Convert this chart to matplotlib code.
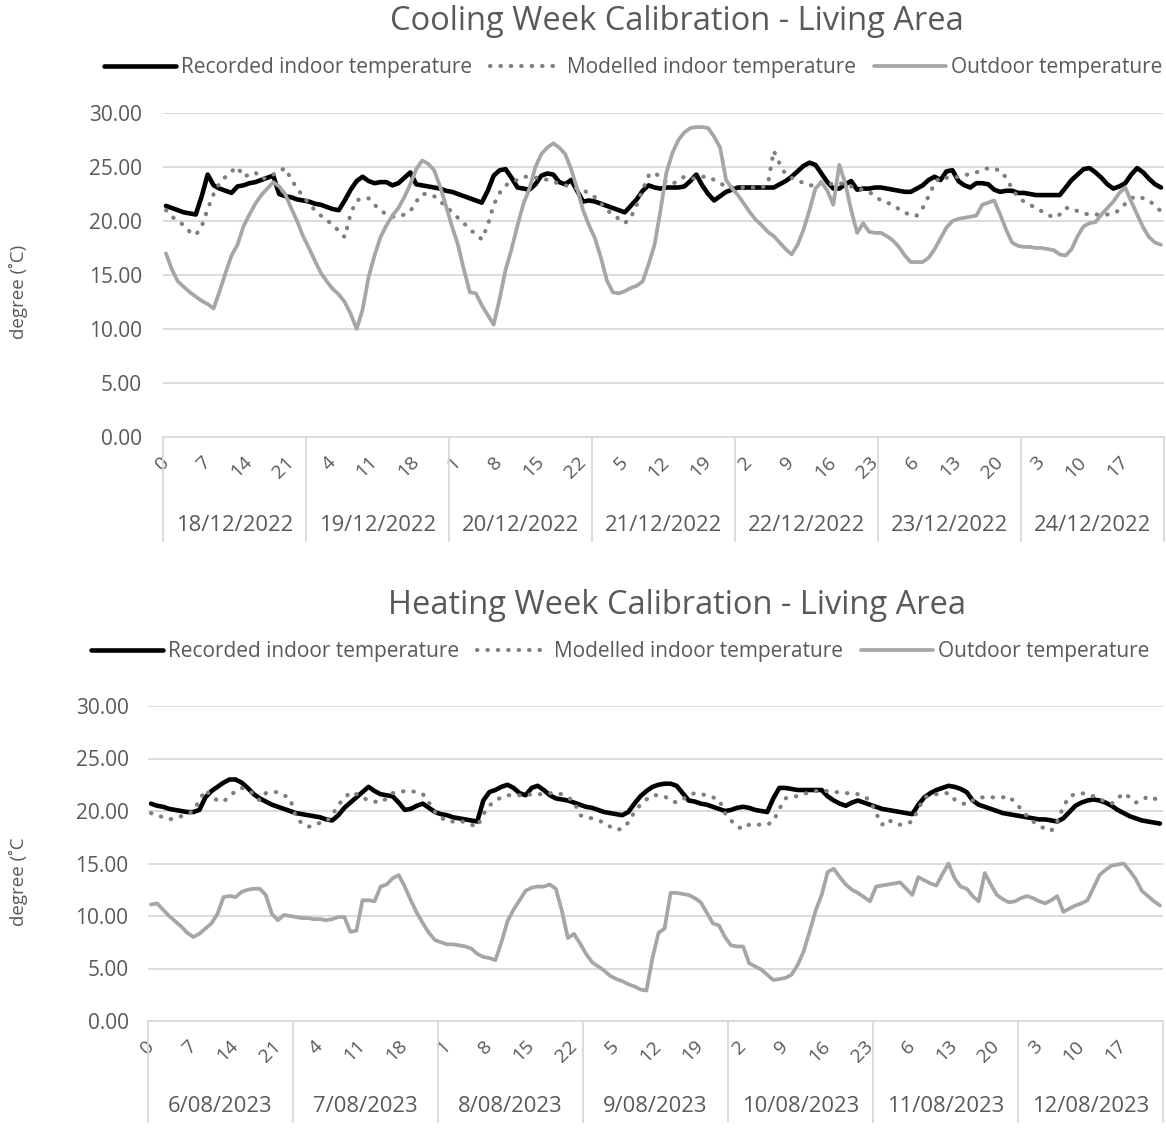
import numpy as np
import matplotlib.pyplot as plt

plt.rcParams['font.family'] = ['Open Sans', 'DejaVu Sans']

# hourly values, one row per day (7 days x 24 h)
cool_dates = ['18/12/2022', '19/12/2022', '20/12/2022', '21/12/2022',
              '22/12/2022', '23/12/2022', '24/12/2022']
cool_recorded = [
    21.4, 21.2, 21.0, 20.8, 20.7, 20.6, 22.3, 24.3, 23.3, 23.0, 22.8, 22.6, 23.2, 23.3, 23.5, 23.6, 23.8, 24.0, 24.2, 22.5, 22.3, 22.2, 22.0, 21.9,
    21.8, 21.6, 21.5, 21.3, 21.1, 21.0, 21.9, 22.9, 23.7, 24.1, 23.7, 23.5, 23.6, 23.6, 23.3, 23.5, 24.0, 24.5, 23.4, 23.3, 23.2, 23.1, 23.0, 22.8,
    22.7, 22.5, 22.3, 22.1, 21.9, 21.7, 22.8, 24.2, 24.7, 24.8, 24.0, 23.1, 23.0, 22.9, 23.4, 24.2, 24.4, 24.3, 23.6, 23.4, 23.8, 22.8, 21.8, 21.9,
    21.8, 21.6, 21.4, 21.2, 21.0, 20.8, 21.4, 22.0, 22.8, 23.3, 23.1, 23.0, 23.1, 23.1, 23.1, 23.2, 23.7, 24.3, 23.3, 22.5, 21.9, 22.3, 22.7, 22.9,
    23.1, 23.1, 23.1, 23.1, 23.1, 23.1, 23.1, 23.4, 23.7, 24.1, 24.6, 25.1, 25.4, 25.2, 24.4, 23.6, 23.0, 23.0, 23.4, 23.7, 22.9, 23.0, 23.0, 23.1,
    23.1, 23.0, 22.9, 22.8, 22.7, 22.7, 23.0, 23.3, 23.8, 24.1, 23.8, 24.6, 24.7, 23.7, 23.3, 23.1, 23.5, 23.5, 23.4, 22.9, 22.7, 22.8, 22.8, 22.6,
    22.6, 22.5, 22.4, 22.4, 22.4, 22.4, 22.4, 23.1, 23.8, 24.3, 24.8, 24.9, 24.5, 24.0, 23.4, 23.0, 23.2, 23.5, 24.3, 24.9, 24.5, 23.9, 23.4, 23.1,
]
cool_modelled = [
    21.0, 20.4, 20.0, 19.6, 19.0, 18.7, 19.5, 21.1, 22.5, 23.5, 24.1, 24.6, 25.0, 24.1, 24.3, 24.5, 23.9, 24.0, 24.3, 24.6, 24.9, 23.9, 23.0, 22.3,
    21.6, 21.0, 20.5, 20.1, 19.6, 19.1, 18.5, 20.7, 21.9, 22.1, 22.1, 21.5, 21.0, 20.6, 20.4, 20.4, 20.6, 20.9, 21.8, 22.5, 22.5, 22.3, 21.8, 21.4,
    20.8, 20.3, 19.8, 19.2, 18.8, 18.3, 19.6, 21.5, 22.6, 23.3, 23.6, 23.8, 24.1, 24.1, 24.0, 24.0, 23.8, 23.6, 23.5, 23.3, 23.2, 23.0, 22.9, 22.5,
    22.2, 21.6, 21.0, 20.6, 20.2, 19.8, 20.3, 21.5, 22.9, 24.2, 24.5, 24.0, 23.6, 23.4, 23.8, 24.1, 24.0, 23.9, 24.1, 24.1, 23.8, 23.5, 23.2, 23.1,
    23.1, 23.1, 23.1, 23.1, 23.1, 23.4, 26.5, 25.3, 24.3, 24.0, 23.8, 23.5, 23.3, 23.3, 23.6, 23.5, 23.4, 23.5, 23.4, 23.2, 23.0, 22.9, 22.7, 22.3,
    21.9, 21.7, 21.5, 21.1, 20.8, 20.5, 20.5, 21.2, 22.3, 23.5, 24.1, 24.0, 24.0, 24.1, 24.2, 24.4, 24.5, 24.7, 24.9, 24.8, 24.7, 24.0, 23.0, 22.2,
    21.8, 21.5, 21.2, 20.9, 20.6, 20.3, 20.6, 21.2, 21.2, 20.9, 20.7, 20.6, 20.6, 20.6, 20.6, 20.7, 21.0, 21.6, 22.1, 22.3, 22.1, 21.9, 21.4, 20.9,
]
cool_outdoor = [
    17.0, 15.5, 14.4, 13.9, 13.4, 13.0, 12.6, 12.3, 11.9, 13.5, 15.2, 16.8, 17.8, 19.5, 20.6, 21.6, 22.4, 23.0, 23.6, 23.2, 22.5, 21.2, 20.0, 18.6,
    17.5, 16.3, 15.2, 14.4, 13.7, 13.2, 12.5, 11.4, 10.0, 11.8, 14.8, 16.8, 18.5, 19.6, 20.5, 21.2, 22.2, 23.4, 24.8, 25.6, 25.3, 24.7, 23.2, 21.4,
    19.5, 17.8, 15.5, 13.4, 13.3, 12.2, 11.3, 10.4, 12.8, 15.5, 17.4, 19.6, 21.6, 23.0, 25.0, 26.2, 26.8, 27.2, 26.8, 26.2, 24.8, 23.0, 21.0, 19.6,
    18.4, 16.6, 14.5, 13.4, 13.3, 13.5, 13.8, 14.0, 14.4, 16.0, 17.8, 21.0, 24.5, 26.3, 27.5, 28.2, 28.6, 28.7, 28.7, 28.6, 27.8, 26.8, 23.8, 23.0,
    22.4, 21.6, 20.8, 20.1, 19.6, 19.0, 18.6, 18.0, 17.4, 16.9, 17.8, 19.2, 21.0, 23.0, 23.6, 22.8, 21.5, 25.2, 23.5, 21.0, 18.9, 19.8, 19.0, 18.9,
    18.9, 18.6, 18.2, 17.6, 16.8, 16.2, 16.2, 16.2, 16.6, 17.4, 18.4, 19.4, 20.0, 20.2, 20.3, 20.4, 20.5, 21.5, 21.7, 21.9, 20.6, 19.2, 18.0, 17.7,
    17.6, 17.6, 17.5, 17.5, 17.4, 17.3, 16.9, 16.8, 17.4, 18.6, 19.5, 19.8, 19.9, 20.6, 21.2, 21.8, 22.6, 23.1, 21.8, 20.6, 19.4, 18.5, 18.0, 17.8,
]

heat_dates = ['6/08/2023', '7/08/2023', '8/08/2023', '9/08/2023',
              '10/08/2023', '11/08/2023', '12/08/2023']
heat_recorded = [
    20.7, 20.5, 20.4, 20.2, 20.1, 20.0, 19.9, 19.9, 20.1, 21.3, 21.9, 22.3, 22.7, 23.0, 23.0, 22.7, 22.2, 21.6, 21.2, 20.9, 20.6, 20.4, 20.2, 20.0,
    19.8, 19.7, 19.6, 19.5, 19.4, 19.2, 19.1, 19.6, 20.3, 20.8, 21.3, 21.8, 22.3, 21.9, 21.6, 21.5, 21.4, 20.8, 20.1, 20.2, 20.5, 20.7, 20.3, 19.9,
    19.7, 19.6, 19.4, 19.3, 19.2, 19.1, 19.0, 21.0, 21.8, 22.0, 22.3, 22.5, 22.2, 21.7, 21.5, 22.2, 22.4, 22.0, 21.5, 21.2, 21.1, 21.0, 20.8, 20.6,
    20.4, 20.3, 20.1, 19.9, 19.8, 19.7, 19.6, 19.9, 20.7, 21.4, 21.9, 22.3, 22.5, 22.6, 22.6, 22.4, 21.7, 21.0, 20.9, 20.7, 20.6, 20.4, 20.2, 20.0,
    20.1, 20.3, 20.4, 20.3, 20.1, 20.0, 19.9, 21.2, 22.2, 22.2, 22.1, 22.0, 22.0, 22.0, 22.0, 22.0, 21.4, 21.0, 20.7, 20.5, 20.8, 21.0, 20.8, 20.6,
    20.4, 20.2, 20.1, 20.0, 19.9, 19.8, 19.7, 20.6, 21.3, 21.7, 22.0, 22.2, 22.4, 22.3, 22.1, 21.8, 21.0, 20.6, 20.4, 20.2, 20.0, 19.8, 19.7, 19.6,
    19.5, 19.4, 19.3, 19.2, 19.2, 19.1, 19.0, 19.3, 19.9, 20.5, 20.8, 21.0, 21.1, 21.0, 20.8, 20.5, 20.1, 19.8, 19.5, 19.3, 19.1, 19.0, 18.9, 18.8,
]
heat_modelled = [
    19.8, 19.6, 19.4, 19.2, 19.3, 19.5, 19.7, 20.0, 21.0, 22.0, 21.4, 21.0, 20.9, 21.4, 21.9, 22.2, 22.0, 21.6, 21.0, 21.7, 21.8, 21.8, 21.5, 21.2,
    19.4, 18.8, 18.5, 18.6, 18.9, 19.0, 19.6, 20.6, 21.2, 21.8, 21.6, 21.3, 21.0, 20.9, 20.8, 21.2, 21.7, 21.8, 21.9, 21.9, 21.8, 21.6, 20.8, 19.9,
    19.4, 19.0, 19.0, 19.1, 18.9, 18.7, 18.5, 19.7, 20.5, 21.0, 21.3, 21.5, 21.5, 21.5, 21.5, 21.6, 21.6, 21.6, 21.7, 21.7, 21.6, 21.3, 20.9, 19.6,
    19.4, 19.3, 19.1, 18.9, 18.5, 18.2, 18.3, 18.9, 19.9, 20.6, 21.1, 21.5, 21.5, 21.4, 21.0, 20.8, 21.1, 21.5, 21.7, 21.6, 21.5, 21.3, 21.1, 19.8,
    19.1, 18.5, 18.3, 18.7, 18.7, 18.7, 18.7, 19.0, 20.2, 21.2, 21.4, 21.4, 21.6, 21.8, 21.9, 21.9, 21.9, 21.8, 21.8, 21.7, 21.7, 21.6, 21.4, 21.0,
    19.8, 18.7, 19.2, 18.8, 18.7, 18.8, 19.0, 20.2, 21.3, 21.5, 21.6, 21.7, 21.7, 21.1, 20.8, 20.6, 21.0, 21.3, 21.3, 21.3, 21.3, 21.3, 21.4, 20.8,
    20.2, 19.5, 19.0, 18.6, 18.3, 18.1, 19.0, 20.4, 21.4, 21.6, 21.7, 21.6, 21.4, 21.1, 20.9, 20.7, 21.2, 21.7, 21.3, 20.8, 21.0, 21.4, 21.2, 21.0,
]
heat_outdoor = [
    11.1, 11.2, 10.6, 10.0, 9.5, 9.0, 8.4, 8.0, 8.3, 8.8, 9.3, 10.2, 11.8, 11.9, 11.8, 12.3, 12.5, 12.6, 12.6, 12.0, 10.2, 9.6, 10.1, 10.0,
    9.9, 9.8, 9.8, 9.7, 9.7, 9.6, 9.7, 9.9, 9.9, 8.5, 8.6, 11.5, 11.5, 11.4, 12.8, 13.0, 13.6, 13.9, 12.8, 11.5, 10.3, 9.3, 8.4, 7.7,
    7.5, 7.3, 7.3, 7.2, 7.1, 6.9, 6.4, 6.1, 6.0, 5.8, 7.5, 9.5, 10.6, 11.5, 12.4, 12.7, 12.8, 12.8, 13.0, 12.6, 10.5, 7.9, 8.3, 7.4,
    6.4, 5.6, 5.2, 4.8, 4.3, 4.0, 3.8, 3.5, 3.3, 3.0, 2.9, 6.0, 8.4, 8.8, 12.2, 12.2, 12.1, 12.0, 11.7, 11.3, 10.3, 9.3, 9.1, 8.0,
    7.2, 7.1, 7.1, 5.5, 5.2, 4.9, 4.4, 3.9, 4.0, 4.1, 4.4, 5.3, 6.6, 8.5, 10.5, 12.0, 14.2, 14.5, 13.7, 13.0, 12.5, 12.2, 11.8, 11.4,
    12.8, 12.9, 13.0, 13.1, 13.2, 12.6, 12.0, 13.7, 13.4, 13.1, 12.9, 14.0, 15.0, 13.6, 12.8, 12.6, 11.9, 11.4, 14.1, 13.0, 12.0, 11.6, 11.3, 11.4,
    11.7, 11.9, 11.7, 11.4, 11.2, 11.5, 11.9, 10.4, 10.7, 11.0, 11.2, 11.5, 12.7, 13.9, 14.4, 14.8, 14.9, 15.0, 14.3, 13.5, 12.4, 11.9, 11.4, 11.0,
]

TXT = '#595959'
GRID = '#d9d9d9'


def draw_week(ax, recorded, modelled, outdoor, dates, ylabel_pad):
    n = len(recorded)
    x = np.arange(n)
    ax.plot(x, recorded, color='black', lw=3.3, solid_capstyle='round',
            label='Recorded indoor temperature')
    ax.plot(x, modelled, color='#7f7f7f', lw=3.0, linestyle=(0, (0.1, 2.4)),
            dash_capstyle='round', label='Modelled indoor temperature')
    ax.plot(x, outdoor, color='#a6a6a6', lw=2.7, solid_capstyle='round',
            label='Outdoor temperature')

    ax.set_xlim(-0.5, n - 0.5)
    ax.set_ylim(0, 30)
    ax.set_yticks(np.arange(0, 31, 5))
    ax.set_yticklabels(['%.2f' % v for v in np.arange(0, 31, 5)])
    ax.grid(axis='y', color=GRID, lw=1.3)
    ax.set_axisbelow(True)
    for s in ['top', 'right', 'left']:
        ax.spines[s].set_visible(False)
    ax.spines['bottom'].set_color(GRID)
    ax.spines['bottom'].set_linewidth(1.3)
    ax.tick_params(axis='y', length=0, pad=ylabel_pad, labelsize=15, labelcolor=TXT)

    # hour of day every 7 h
    pos = np.arange(0, n, 7)
    ax.set_xticks(pos)
    ax.set_xticklabels([str(p % 24) for p in pos], rotation=45, ha='right',
                       va='center', rotation_mode='anchor')
    ax.tick_params(axis='x', length=0, pad=16, labelsize=14, labelcolor=TXT)

    # day groups under the hours
    for d in range(len(dates) + 1):
        ax.plot([d * 24 - 0.5] * 2, [0, -0.32], transform=ax.get_xaxis_transform(),
                color=GRID, lw=1.3, clip_on=False)
    for d, lab in enumerate(dates):
        ax.text(d * 24 + 11.5, -0.272, lab, transform=ax.get_xaxis_transform(),
                ha='center', va='center', fontsize=15.8, color=TXT)


fig = plt.figure(figsize=(11.66, 11.28), dpi=100)

ax1 = fig.add_axes([163 / 1166, 1 - 437 / 1128, 1001 / 1166, 324 / 1128])
draw_week(ax1, cool_recorded, cool_modelled, cool_outdoor, cool_dates, 15)
fig.text(677 / 1166, 1 - 22 / 1128, 'Cooling Week Calibration - Living Area',
         ha='center', va='center', fontsize=23.5, color=TXT)
fig.text(18 / 1166, 1 - 292 / 1128, 'degree (˚C)', rotation=90,
         ha='center', va='center', fontsize=13.5, color=TXT)
ax1.legend(loc='center left', bbox_to_anchor=(96 / 1166, 1 - 68 / 1128),
           bbox_transform=fig.transFigure, ncol=3, frameon=False,
           fontsize=15, labelcolor=TXT, handlelength=3.45, handletextpad=0.25,
           columnspacing=0.85, borderaxespad=0)

ax2 = fig.add_axes([148 / 1166, 1 - 1021 / 1128, 1015 / 1166, 315 / 1128])
draw_week(ax2, heat_recorded, heat_modelled, heat_outdoor, heat_dates, 14)
fig.text(677 / 1166, 1 - 605 / 1128, 'Heating Week Calibration - Living Area',
         ha='center', va='center', fontsize=23.5, color=TXT)
fig.text(18 / 1166, 1 - 882 / 1128, 'degree (˚C', rotation=90,
         ha='center', va='center', fontsize=13.5, color=TXT)
ax2.legend(loc='center left', bbox_to_anchor=(83 / 1166, 1 - 652 / 1128),
           bbox_transform=fig.transFigure, ncol=3, frameon=False,
           fontsize=15, labelcolor=TXT, handlelength=3.45, handletextpad=0.25,
           columnspacing=0.85, borderaxespad=0)

fig.savefig('out.png', dpi=100)
